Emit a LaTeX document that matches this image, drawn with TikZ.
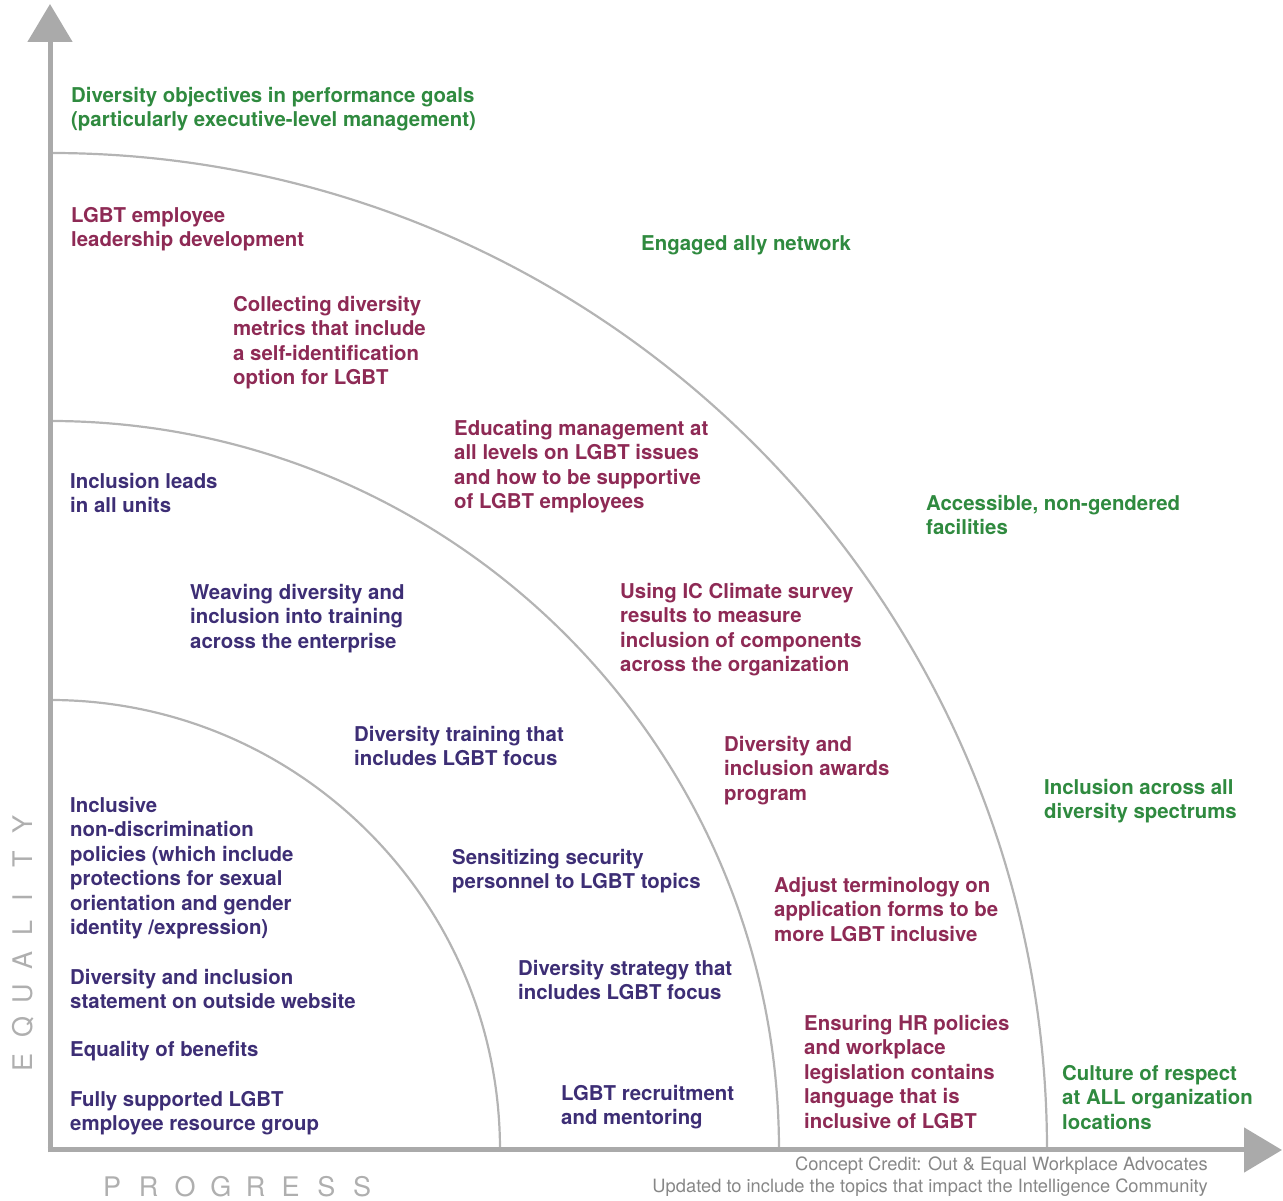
\documentclass[tikz,border=0pt]{standalone}
\usepackage{fontspec}
\setmainfont{TeX Gyre Heros}
\usetikzlibrary{arrows.meta,calc}
\definecolor{axisgray}{RGB}{170,170,170}
\definecolor{arcgray}{RGB}{180,180,180}
\definecolor{labgray}{RGB}{175,175,175}
\definecolor{credgray}{RGB}{135,135,135}
\definecolor{lgreen}{RGB}{47,138,63}
\definecolor{lmaroon}{RGB}{142,42,85}
\definecolor{lpurple}{RGB}{61,46,117}
\tikzset{
  lab/.style={anchor=north west, inner sep=0pt, align=left,
    font=\fontsize{20.4}{24.5}\selectfont\bfseries},
  gtext/.style={lab, text=lgreen},
  mtext/.style={lab, text=lmaroon},
  ptext/.style={lab, text=lpurple},
  axisline/.style={draw=axisgray, line width=5pt,
    -{Triangle[width=44pt,length=38pt]}},
  ring/.style={draw=arcgray, line width=2.2pt},
  spaced/.style={inner sep=0pt, text=labgray, font=\fontsize{27}{30}\selectfont}
}
\newcommand{\lsp}[1]{\makebox[35.7pt][l]{#1}}
\newcommand{\lsq}[1]{\makebox[34pt][l]{#1}}
\begin{document}
\begin{tikzpicture}[x=1pt,y=1pt]
\useasboundingbox (0,0) rectangle (1283,1201);
\coordinate (O) at (50,51);
\coordinate (ytip) at (50,1197);
\coordinate (xtip) at (1282,51);
% rings
\draw[ring] ($(O)+(450,0)$) arc[start angle=0,end angle=90,radius=450pt];
\draw[ring] ($(O)+(729,0)$) arc[start angle=0,end angle=90,radius=729pt];
\draw[ring] ($(O)+(997,0)$) arc[start angle=0,end angle=90,radius=997pt];
% axes
\draw[axisline] (50,48.5) -- (ytip);
\draw[axisline] (47.5,51) -- (xtip);
% green
\node[gtext] (g1) at (71,1114) {Diversity objectives in performance goals\\(particularly executive-level management)};
\node[gtext] (g2) at (641,966) {Engaged ally network};
\node[gtext] (g3) at (926,706) {Accessible, non-gendered\\facilities};
\node[gtext] (g4) at (1044,422) {Inclusion across all\\diversity spectrums};
\node[gtext] (g5) at (1062,136) {Culture of respect\\at ALL organization\\locations};
% maroon
\node[mtext] (m1) at (71,994) {LGBT employee\\leadership development};
\node[mtext] (m2) at (233,905) {Collecting diversity\\metrics that include\\a self-identification\\option for LGBT};
\node[mtext] (m3) at (454,781) {Educating management at\\all levels on LGBT issues\\and how to be supportive\\of LGBT employees};
\node[mtext] (m4) at (620,618) {Using IC Climate survey\\results to measure\\inclusion of components\\across the organization};
\node[mtext] (m5) at (724,465) {Diversity and\\inclusion awards\\program};
\node[mtext] (m6) at (774,324) {Adjust terminology on\\application forms to be\\more LGBT inclusive};
\node[mtext] (m7) at (804,186) {Ensuring HR policies\\and workplace\\legislation contains\\language that is\\inclusive of LGBT};
% purple
\node[ptext] (p1) at (70,728) {Inclusion leads\\in all units};
\node[ptext] (p2) at (190,617) {Weaving diversity and\\inclusion into training\\across the enterprise};
\node[ptext] (p3) at (354,475) {Diversity training that\\includes LGBT focus};
\node[ptext] (p4) at (70,404) {Inclusive\\non-discrimination\\policies (which include\\protections for sexual\\orientation and gender\\identity /expression)};
\node[ptext] (p5) at (70,232) {Diversity and inclusion\\statement on outside website};
\node[ptext] (p6) at (70,160) {Equality of benefits};
\node[ptext] (p7) at (70,110) {Fully supported LGBT\\employee resource group};
\node[ptext] (p8) at (452,352) {Sensitizing security\\personnel to LGBT topics};
\node[ptext] (p9) at (518,241) {Diversity strategy that\\includes LGBT focus};
\node[ptext] (p10) at (561,116) {LGBT recruitment\\and mentoring};
% axis labels
\node[spaced, anchor=base west] (prog) at (103,4) {\lsp{P}\lsp{R}\lsp{O}\lsp{G}\lsp{R}\lsp{E}\lsp{S}S};
\node[spaced, anchor=base west, rotate=90] (equal) at (32,129) {\lsq{E}\lsq{Q}\lsq{U}\lsq{A}\lsq{L}\lsq{I}\lsq{T}Y};
% credit
\node[anchor=north east, inner sep=0pt, align=right, text=credgray,
  font=\fontsize{18.3}{22}\selectfont] (credit) at (1208,44.5)
  {Concept Credit: Out \& Equal Workplace Advocates\\Updated to include the topics that impact the Intelligence Community};
\end{tikzpicture}
\end{document}
